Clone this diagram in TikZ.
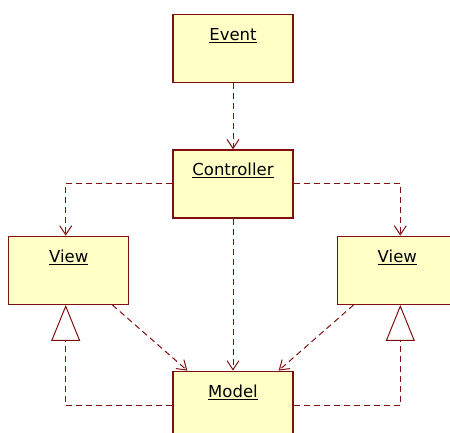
\documentclass[tikz,border=0pt]{standalone}
\usepackage{fontspec}
\setmainfont{DejaVu Sans}
\usetikzlibrary{arrows.meta, positioning}
\definecolor{umlfill}{RGB}{255,255,198}
\definecolor{umlline}{RGB}{128,16,16}
\tikzset{
	classbox/.style = {draw=umlline, fill=umlfill, line width=1.3pt, rectangle, minimum width=120pt, inner sep=0pt,
		text height=26pt, text depth=42pt, font=\fontsize{16.5}{18}\selectfont},
	depend/.style = {draw=umlline, line width=1pt, dash pattern=on 6pt off 4pt, -{Straight Barb[length=9pt, width=12pt, line width=1pt]}},
	realize/.style = {draw=umlline, line width=1pt, dash pattern=on 6pt off 4pt, -{Triangle[open, length=36pt, width=29pt, line width=1pt, fill=white]}},
}

\begin{document}
\begin{tikzpicture}[x=1pt, y=-1pt, node distance=66pt]
			\useasboundingbox[fill=white] (0,0) rectangle (450,432);
			
			% Classes
			\node[classbox, anchor=north] (event) at (233,14) {\underline{Event}};
			\node[classbox, below=of event] (ctrl) {\underline{Controller}};
			\node[classbox, below left=17pt and 43pt of ctrl] (viewl) {\underline{View}};
			\node[classbox, below right=17pt and 43pt of ctrl] (viewr) {\underline{View}};
			\node[classbox, below=152pt of ctrl] (model) {\underline{Model}};
			
			% Dependencies
			\draw[depend] (event) -- (ctrl);
			\draw[depend] (ctrl.west) -| ([xshift=-3pt]viewl.north);
			\draw[depend] (ctrl.east) -| ([xshift=3pt]viewr.north);
			\draw[depend] (ctrl) -- (model);
			\draw[depend] ([xshift=-17pt]viewl.south east) -- ([xshift=15pt]model.north west);
			\draw[depend] ([xshift=17pt]viewr.south west) -- ([xshift=-15pt]model.north east);
			
			% Realizations
			\draw[realize] (model.west) -| ([xshift=-3pt]viewl.south);
			\draw[realize] (model.east) -| ([xshift=3pt]viewr.south);
			
		\end{tikzpicture}
\end{document}
